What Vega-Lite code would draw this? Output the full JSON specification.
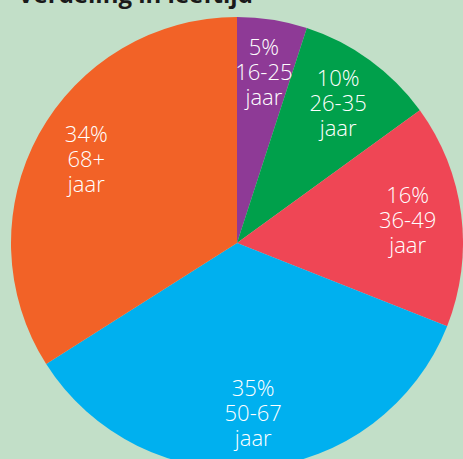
{
  "$schema": "https://vega.github.io/schema/vega-lite/v6.json",
  "width": 452,
  "height": 452,
  "autosize": {"type": "none"},
  "padding": {"left": 11, "top": 17, "right": 0, "bottom": 0},
  "background": "#c2dfc8",
  "title": {
    "text": "Verdeling in leeftijd",
    "anchor": "start",
    "frame": "group",
    "baseline": "alphabetic",
    "offset": 0,
    "dx": 7,
    "dy": 10,
    "fontSize": 24,
    "font": "Open Sans",
    "fontWeight": "bold",
    "color": "#1a1a1a"
  },
  "config": {"view": {"stroke": null}},
  "data": {
    "values": [
      {"leeftijd": "16-25", "pct": 5, "label": "5%\n16-25\njaar"},
      {"leeftijd": "26-35", "pct": 10, "label": "10%\n26-35\njaar"},
      {"leeftijd": "36-49", "pct": 16, "label": "16%\n36-49\njaar"},
      {"leeftijd": "50-67", "pct": 35, "label": "35%\n50-67\njaar"},
      {"leeftijd": "68+", "pct": 34, "label": "34%\n68+\njaar"}
    ]
  },
  "encoding": {
    "theta": {"field": "pct", "type": "quantitative", "stack": true},
    "order": {"field": "leeftijd", "type": "ordinal", "sort": "ascending"}
  },
  "layer": [
    {
      "mark": {"type": "arc", "outerRadius": 226},
      "encoding": {
        "color": {
          "field": "leeftijd",
          "type": "nominal",
          "scale": {
            "domain": ["16-25", "26-35", "36-49", "50-67", "68+"],
            "range": ["#8e3a96", "#00a04b", "#ef4655", "#00b0ef", "#f26227"]
          },
          "legend": null
        }
      }
    },
    {
      "mark": {
        "type": "text",
        "radius": 172,
        "dy": -25,
        "lineBreak": "\n",
        "lineHeight": 25,
        "fontSize": 22,
        "font": "Open Sans",
        "fontWeight": 300,
        "baseline": "middle",
        "align": "center",
        "color": "white"
      },
      "encoding": {
        "detail": {"field": "leeftijd", "type": "nominal"},
        "text": {"field": "label"}
      }
    }
  ]
}
